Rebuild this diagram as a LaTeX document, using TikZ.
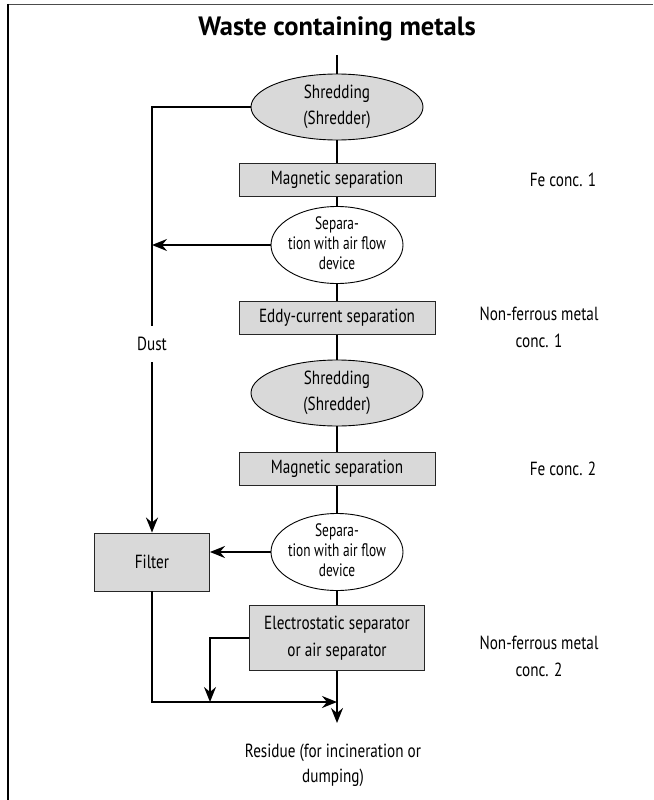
\documentclass[tikz,border=0pt]{standalone}
\usepackage{fontspec}
\usepackage{graphicx}
\setmainfont{PT Sans}[FakeStretch=0.8]
\newfontfamily\titlefont{PT Sans}
\usetikzlibrary{arrows.meta,shapes.geometric}
\definecolor{boxgray}{HTML}{D9D9D9}
% three-line label of the air-flow separators, narrowed to fit the ellipse
\newcommand{\airflowtext}{\resizebox{98pt}{\height}{%
  \begin{tabular}{@{}c@{}}Separa-\\tion with air flow\\device\end{tabular}}}

\begin{document}
\begin{tikzpicture}[x=1pt,y=-1pt,
  flow/.style={line width=2pt},
  tip/.style={-{Stealth[length=15pt,width=12pt,inset=5pt]}},
  procbox/.style={draw=black!85, line width=0.9pt, fill=boxgray,
    minimum width=196pt, minimum height=33pt, inner sep=0pt,
    font=\fontsize{19}{27}\selectfont, align=center},
  shred/.style={ellipse, draw, line width=0.9pt, fill=boxgray,
    minimum width=172pt, minimum height=66pt, inner sep=0pt,
    font=\fontsize{19}{26}\selectfont, align=center},
  airsep/.style={ellipse, draw, line width=0.9pt, fill=white,
    minimum width=132pt, minimum height=77pt, inner sep=0pt},
  airtext/.style={font=\fontsize{18}{20}\selectfont, inner sep=0pt},
  sidelabel/.style={font=\fontsize{19}{27}\selectfont, align=center, inner sep=0pt}
]
\useasboundingbox (0,0) rectangle (653,800);

% frame
\draw[black!70, line width=1.5pt] (7,4.5) -- (653,4.5);
\draw[black, line width=2pt] (7.5,4) -- (7.5,800);

% title
\node[font=\titlefont\bfseries\fontsize{26.5}{30}\selectfont] (title) at (337,29) {Waste containing metals};

% process chain
\coordinate (top) at (337,55);
\node[shred] (e1) at (337,107) {Shredding\\(Shredder)};
\node[procbox] (mag1) at (337,180) {Magnetic separation};
\node[airsep] (e2) at (337,245) {};
\node[airtext] (e2t) at (e2) {\airflowtext};
\node[procbox] (eddy) at (337,318) {Eddy-current separation};
\node[shred] (e3) at (337,393) {Shredding\\(Shredder)};
\node[procbox] (mag2) at (337,469) {Magnetic separation};
\node[airsep] (e4) at (337,552) {};
\node[airtext] (e4t) at (e4) {\airflowtext};
\node[procbox, minimum width=175pt, minimum height=65pt] (elec) at (337,638)
  {Electrostatic separator\\or air separator};
\node[procbox, minimum width=115pt, minimum height=58pt] (filter) at (152,562) {Filter};

% side labels
\node[sidelabel] (fe1) at (563,180) {Fe conc. 1};
\node[sidelabel] (nf1) at (539,327) {Non-ferrous metal\\conc. 1};
\node[sidelabel] (fe2) at (563,469) {Fe conc. 2};
\node[sidelabel] (nf2) at (539,656) {Non-ferrous metal\\conc. 2};
\node[sidelabel, minimum height=36pt] (dust) at (152,344) {Dust};
\node[sidelabel, font=\fontsize{19}{25}\selectfont] (residue) at (333,765)
  {Residue (for incineration or\\dumping)};

% junction points
\coordinate (join) at (337,702);
\coordinate (out) at (337,723);
\coordinate (byp) at (210,702);

% main line
\draw[flow] (top) -- (e1.north);
\draw[flow] (e1.south) -- (mag1.north);
\draw[flow] (mag1.south) -- (e2.north);
\draw[flow] (e2.south) -- (eddy.north);
\draw[flow] (eddy.south) -- (e3.north);
\draw[flow] (e3.south) -- (mag2.north);
\draw[flow] (mag2.south) -- (e4.north);
\draw[flow] (e4.south) -- (elec.north);
\draw[flow,tip] (elec.south) -- (out);

% dust line
\draw[flow] (e1.west) -| (dust.north);
\draw[flow,tip] (dust.south) -- (filter.north);
\draw[flow,tip] (e2.west) -- (e2.west -| dust.north);
\draw[flow,tip] (e4.west) -- (e4.west -| filter.east);

% residue collection
\draw[flow,tip] (filter.south) |- (join);
\draw[flow,tip] (elec.west) -| (byp);
\end{tikzpicture}
\end{document}
